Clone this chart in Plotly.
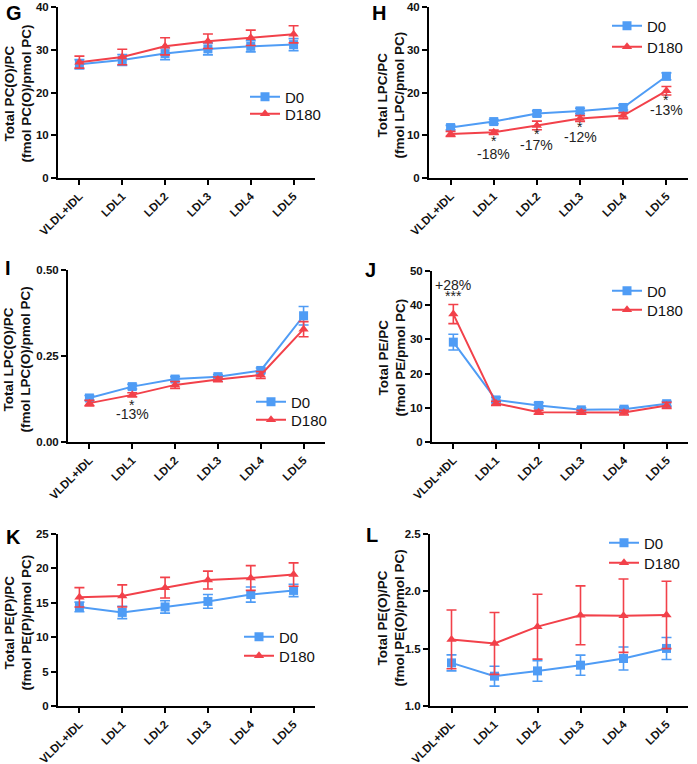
import plotly.graph_objects as go

W, H = 697, 764

categories = ["VLDL+IDL", "LDL1", "LDL2", "LDL3", "LDL4", "LDL5"]

# Panel G: Total PC(O)/PC
g_d0 = [26.6, 27.6, 29.1, 30.2, 30.8, 31.2]
g_d0_err = [1.1, 1.3, 1.4, 1.4, 1.3, 1.4]
g_d180 = [27.1, 28.3, 30.8, 32.0, 32.8, 33.6]
g_d180_err = [1.4, 1.8, 2.0, 1.7, 1.8, 2.0]

# Panel H: Total LPC/PC
h_d0 = [11.8, 13.2, 15.1, 15.7, 16.5, 23.8]
h_d0_err = [0.5, 0.5, 0.6, 0.6, 0.6, 0.8]
h_d180 = [10.3, 10.7, 12.3, 13.9, 14.6, 20.4]
h_d180_err = [0.6, 0.5, 1.0, 0.7, 0.7, 1.0]

# Panel I: Total LPC(O)/PC
i_d0 = [0.128, 0.161, 0.183, 0.190, 0.208, 0.367]
i_d0_err = [0.007, 0.007, 0.007, 0.006, 0.007, 0.027]
i_d180 = [0.113, 0.137, 0.166, 0.182, 0.195, 0.328]
i_d180_err = [0.008, 0.006, 0.010, 0.007, 0.010, 0.022]

# Panel J: Total PE/PC
j_d0 = [29.2, 12.3, 10.7, 9.4, 9.6, 11.2]
j_d0_err = [2.3, 0.8, 0.8, 0.6, 0.6, 0.7]
j_d180 = [37.4, 11.3, 8.7, 8.7, 8.6, 10.7]
j_d180_err = [2.8, 0.6, 0.6, 0.6, 0.7, 0.9]

# Panel K: Total PE(P)/PC
k_d0 = [14.4, 13.6, 14.4, 15.2, 16.2, 16.8]
k_d0_err = [0.7, 0.9, 0.9, 1.0, 1.1, 0.9]
k_d180 = [15.8, 16.0, 17.2, 18.3, 18.6, 19.1]
k_d180_err = [1.4, 1.6, 1.5, 1.3, 1.8, 1.7]

# Panel L: Total PE(O)/PC
l_d0 = [1.376, 1.260, 1.306, 1.356, 1.414, 1.502]
l_d0_err = [0.070, 0.087, 0.090, 0.088, 0.100, 0.096]
l_d180 = [1.581, 1.546, 1.692, 1.791, 1.788, 1.794]
l_d180_err = [0.256, 0.270, 0.283, 0.257, 0.320, 0.294]

series_names = ["D0", "D180"]

BLUE = "#4F9CF5"
RED = "#F2414A"
FONT = "Liberation Sans, Arial, sans-serif"


def px_x(p):
    return p / W


def px_y(p):
    return 1 - p / H


panels = [
    dict(letter="G", d0=g_d0, d0e=g_d0_err, d180=g_d180, d180e=g_d180_err,
         xd=(58, 315), yd=(7, 178), yr=[0, 40], dt=10, fmt="d",
         title="Total PC(O)/PC<br>(fmol PC(O)/pmol PC)", tx=17.5, ty=94,
         lx=285, ly=(97, 114), letpos=(14, 13)),
    dict(letter="H", d0=h_d0, d0e=h_d0_err, d180=h_d180, d180e=h_d180_err,
         xd=(429, 688), yd=(7, 178), yr=[0, 40], dt=10, fmt="d",
         title="Total LPC/PC<br>(fmol LPC/pmol PC)", tx=391.5, ty=95,
         lx=647, ly=(26, 47), letpos=(379, 13)),
    dict(letter="I", d0=i_d0, d0e=i_d0_err, d180=i_d180, d180e=i_d180_err,
         xd=(68, 325), yd=(270, 442), yr=[0, 0.5], dt=0.25, fmt=".2f",
         title="Total LPC(O)/PC<br>(fmol LPC(O)/pmol PC)", tx=17.5, ty=360,
         lx=291, ly=(402, 420), letpos=(8, 268)),
    dict(letter="J", d0=j_d0, d0e=j_d0_err, d180=j_d180, d180e=j_d180_err,
         xd=(432, 688), yd=(271, 442), yr=[0, 50], dt=10, fmt="d",
         title="Total PE/PC<br>(fmol PE/pmol PC)", tx=391.5, ty=357,
         lx=647, ly=(291, 310), letpos=(371, 270)),
    dict(letter="K", d0=k_d0, d0e=k_d0_err, d180=k_d180, d180e=k_d180_err,
         xd=(58, 315), yd=(534, 706), yr=[0, 25], dt=5, fmt="d",
         title="Total PE(P)/PC<br>(fmol PE(P)/pmol PC)", tx=17.5, ty=623,
         lx=279, ly=(637, 656), letpos=(13, 537)),
    dict(letter="L", d0=l_d0, d0e=l_d0_err, d180=l_d180, d180e=l_d180_err,
         xd=(430, 688), yd=(534, 706), yr=[1.0, 2.5], dt=0.5, fmt=".1f",
         title="Total PE(O)/PC<br>(fmol PE(O)/pmol PC)", tx=390.5, ty=618,
         lx=644, ly=(543, 563), letpos=(372, 535)),
]

fig = go.Figure()
annotations = []
layout = {}
leg_count = 0

for idx, p in enumerate(panels):
    n = idx + 1
    xname = "xaxis" if n == 1 else f"xaxis{n}"
    yname = "yaxis" if n == 1 else f"yaxis{n}"
    xref = "x" if n == 1 else f"x{n}"
    yref = "y" if n == 1 else f"y{n}"

    for k, (name, vals, errs, color, sym) in enumerate([
        (series_names[0], p["d0"], p["d0e"], BLUE, "square"),
        (series_names[1], p["d180"], p["d180e"], RED, "triangle-up"),
    ]):
        leg_count += 1
        lname = "legend" if leg_count == 1 else f"legend{leg_count}"
        fig.add_trace(go.Scatter(
            x=categories, y=vals, name=name, mode="lines+markers",
            xaxis=xref, yaxis=yref, legend=lname,
            line=dict(color=color, width=2),
            marker=dict(symbol=sym, size=9, color=color),
            error_y=dict(type="data", array=errs, visible=True,
                         color=color, thickness=1.6, width=5),
            cliponaxis=False,
        ))
        layout[lname] = dict(
            x=px_x(p["lx"] - 40), y=px_y(p["ly"][k]),
            xanchor="left", yanchor="middle",
            bgcolor="rgba(0,0,0,0)", borderwidth=0, itemwidth=30,
            font=dict(family=FONT, size=15, color="#111"),
        )

    layout[xname] = dict(
        domain=[px_x(p["xd"][0]), px_x(p["xd"][1])],
        anchor=yref, type="category", range=[-0.5, 5.5],
        showline=True, linecolor="black", linewidth=2,
        ticks="outside", ticklen=5, tickwidth=2, tickcolor="black",
        tickangle=-45, showgrid=False, zeroline=False, automargin=False,
        tickfont=dict(family=FONT, size=11.5, color="#111", weight="bold"),
    )
    layout[yname] = dict(
        domain=[px_y(p["yd"][1]), px_y(p["yd"][0])],
        anchor=xref, range=p["yr"], dtick=p["dt"], tick0=p["yr"][0],
        tickformat=p["fmt"], automargin=False,
        showline=True, linecolor="black", linewidth=2,
        ticks="outside", ticklen=5, tickwidth=2, tickcolor="black",
        showgrid=False, zeroline=False,
        tickfont=dict(family=FONT, size=11.5, color="#111", weight="bold"),
    )
    annotations.append(dict(
        text=p["title"], x=px_x(p["tx"]), y=px_y(p["ty"]),
        xref="paper", yref="paper", xanchor="center", yanchor="middle",
        textangle=-90, showarrow=False,
        font=dict(family=FONT, size=13.5, color="#111", weight="bold"),
    ))
    annotations.append(dict(
        text=p["letter"], x=px_x(p["letpos"][0]), y=px_y(p["letpos"][1]),
        xref="paper", yref="paper", xanchor="center", yanchor="middle",
        showarrow=False,
        font=dict(family=FONT, size=20, color="black", weight="bold"),
    ))

# significance annotations (category, y, text, xref, yref)
sig_notes = [
    ("LDL1", 8.6, "*", "x2", "y2"), ("LDL1", 5.7, "-18%", "x2", "y2"),
    ("LDL2", 10.3, "*", "x2", "y2"), ("LDL2", 7.8, "-17%", "x2", "y2"),
    ("LDL3", 11.9, "*", "x2", "y2"), ("LDL3", 9.6, "-12%", "x2", "y2"),
    ("LDL5", 18.3, "*", "x2", "y2"), ("LDL5", 15.9, "-13%", "x2", "y2"),
    ("LDL1", 0.109, "*", "x3", "y3"), ("LDL1", 0.082, "-13%", "x3", "y3"),
    ("VLDL+IDL", 46.0, "+28%", "x4", "y4"), ("VLDL+IDL", 42.6, "***", "x4", "y4"),
]
for cat, yv, txt, xr, yr in sig_notes:
    annotations.append(dict(
        text=txt, x=cat, y=yv, xref=xr, yref=yr, showarrow=False,
        xanchor="center", yanchor="middle",
        font=dict(family=FONT, size=14, color="#222"),
    ))

fig.update_layout(
    width=W, height=H,
    margin=dict(l=0, r=0, t=0, b=0, pad=0, autoexpand=False),
    paper_bgcolor="white", plot_bgcolor="white",
    annotations=annotations, showlegend=True,
    **layout,
)

fig.write_html(
    "out.html",
    config={"displayModeBar": False},
    post_script="document.body.style.margin='0';document.body.style.padding='0';",
)
